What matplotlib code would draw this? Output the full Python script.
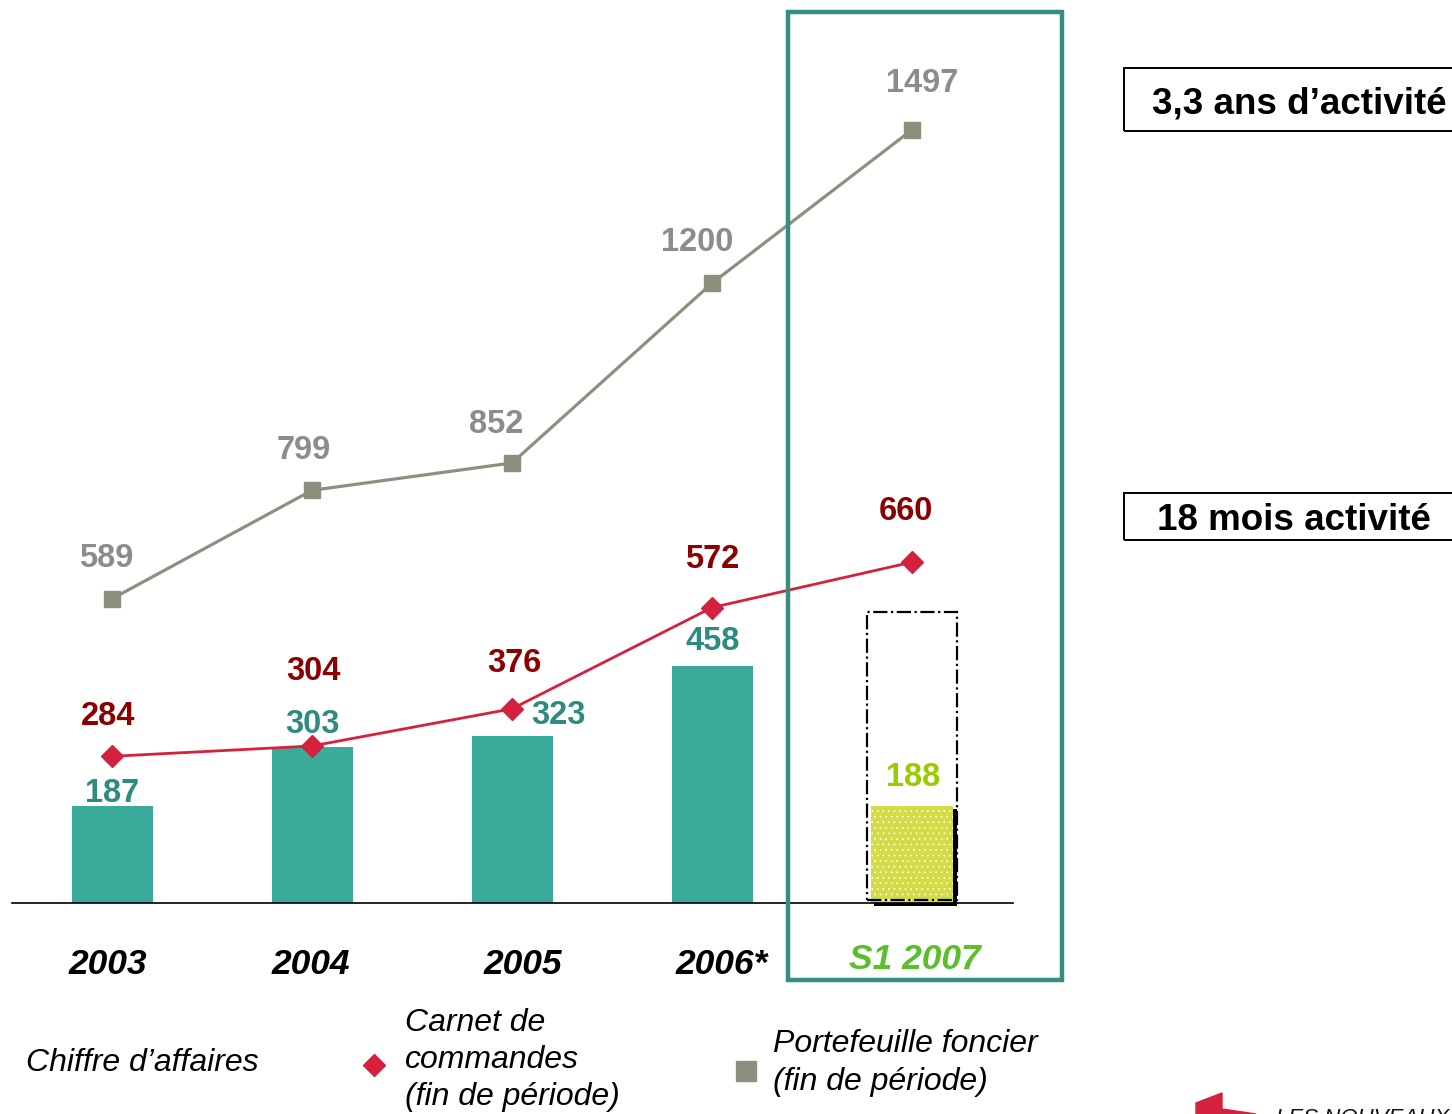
import matplotlib
matplotlib.use("Agg")
import matplotlib.pyplot as plt
from matplotlib.patches import Rectangle, Polygon

plt.rcParams['font.family'] = ['Liberation Sans', 'DejaVu Sans']
plt.rcParams['hatch.color'] = 'white'
plt.rcParams['hatch.linewidth'] = 0.5

# ---------------- data ----------------
periods = ['2003', '2004', '2005', '2006*', 'S1 2007']
chiffre_affaires = [187, 303, 323, 458, 188]
carnet_commandes = [284, 304, 376, 572, 660]
portefeuille_foncier = [589, 799, 852, 1200, 1497]
s1_2007_cadre = 563          # dashed outline above the S1 2007 bar
box_texts = ['3,3 ans d\u2019activit\u00e9', '18 mois activit\u00e9']
legend_texts = ['Chiffre d\u2019affaires',
                'Carnet de\ncommandes\n(fin de p\u00e9riode)',
                'Portefeuille foncier\n(fin de p\u00e9riode)']

# ---------------- styles ----------------
W, H = 1452, 1114
TEAL = '#3aab9a'
TEAL_TXT = '#2e8b80'
FRAME = '#358e7e'
RED = '#d4213d'
DARKRED = '#8b0000'
GREY_LINE = '#8f8f80'
GREY_TXT = '#8c8c8c'
YEL = '#d3db45'
GREEN_TXT = '#99cc00'
S1_GREEN = '#5bbf2a'

fig = plt.figure(figsize=(W / 100, H / 100), dpi=100)
ax = fig.add_axes([0, 0, 1, 1])
ax.axis('off')

# mapping: x index i -> pixel 112 + 200 i ; value v -> pixel row 903 - 0.5165 v
X0, DX = 112.0, 200.0
Y0, SY = 903.0, 0.5165
ax.set_xlim((0 - X0) / DX, (W - X0) / DX)
ax.set_ylim((Y0 - H) / SY, Y0 / SY)

def fx(px):
    return px / W

def fy(py):
    return 1 - py / H

def ptxt(xc, yc, s, size, **kw):
    """Place text centred (visually) on pixel position xc, yc (row from top)."""
    em = size * 100 / 72
    fig.text(fx(xc), fy(yc + 0.358 * em), s, fontsize=size, ha='center',
             va='baseline', **kw)

xs = list(range(len(periods)))
bar_w = 0.405

# ---------------- bars ----------------
ax.bar(xs[:4], chiffre_affaires[:4], width=bar_w, color=TEAL, zorder=2)
# S1 2007 bar with black drop shadow and dotted yellow fill
shadow_dx = 4 / DX
shadow_dy = 3 / SY
ax.bar(xs[4] + shadow_dx, chiffre_affaires[4], bottom=-shadow_dy, width=0.415,
       color='black', zorder=2)
ax.bar(xs[4], chiffre_affaires[4], width=0.415, color=YEL, edgecolor='white',
       linewidth=0, hatch='...', zorder=3)
ax.add_patch(Rectangle((xs[4] - 0.225, 6), 0.45, s1_2007_cadre - 6, fill=False,
                       edgecolor='black', linewidth=1.6, linestyle='-.', zorder=4))

# baseline
ax.plot([(12 - X0) / DX, (1013 - X0) / DX], [0, 0], color='black', lw=1.2, zorder=4)

# ---------------- lines ----------------
ax.plot(xs, portefeuille_foncier, color=GREY_LINE, lw=2.3, marker='s', ms=12,
        mfc=GREY_LINE, mec=GREY_LINE, zorder=5)
ax.plot(xs, carnet_commandes, color=RED, lw=2.0, marker='D', ms=11,
        mfc=RED, mec=RED, zorder=6)

# ---------------- value labels ----------------
def lab(i, v, dx, dy, s, color, size=23.5):
    px = X0 + DX * i + dx
    py = Y0 - SY * v + dy
    ptxt(px, py, s, size, color=color, fontweight='bold')

foncier_off = [(-6, -43), (-8, -43), (-16, -42), (-15, -44), (10, -49)]
carnet_off = [(-4, -43), (1, -78), (2, -48), (0, -51), (-6, -54)]
ca_off = [(0, -16), (0, -25), (46, -24), (1, -28), (1, -32)]
for i in xs:
    lab(i, portefeuille_foncier[i], *foncier_off[i], str(portefeuille_foncier[i]), GREY_TXT)
    lab(i, carnet_commandes[i], *carnet_off[i], str(carnet_commandes[i]), DARKRED)
    lab(i, chiffre_affaires[i], *ca_off[i], str(chiffre_affaires[i]),
        GREEN_TXT if i == 4 else TEAL_TXT)

# ---------------- category labels ----------------
cat_dx = [-4, -1, 11, 10, 3]
cat_y = [961, 961, 961, 961, 956]
for i, p in enumerate(periods):
    ptxt(X0 + DX * i + cat_dx[i], cat_y[i], p, 25.5,
         color=S1_GREEN if i == 4 else 'black', fontweight='bold', style='italic')

# ---------------- highlight frame ----------------
ax.add_patch(Rectangle((fx(788), fy(980)), fx(1062) - fx(788), fy(12) - fy(980),
                       transform=fig.transFigure, fill=False, edgecolor=FRAME,
                       linewidth=3.2, zorder=7, clip_on=False))

# ---------------- right boxes ----------------
for (y1, y2, tx, ty), s in zip([(68, 131, 1299, 100), (493, 540, 1294, 517)], box_texts):
    ax.add_patch(Rectangle((fx(1124), fy(y2)), fx(1500) - fx(1124), fy(y1) - fy(y2),
                           transform=fig.transFigure, fill=False, edgecolor='black',
                           linewidth=1.4, clip_on=False))
    ptxt(tx, ty, s, 26.5, color='black', fontweight='bold')

# ---------------- legend ----------------
fig.text(fx(26), fy(1063), legend_texts[0], fontsize=23, style='italic',
         ha='left', va='center')
ax.plot([fx(374)], [fy(1065)], transform=fig.transFigure, marker='D', ms=11,
        color=RED, linestyle='none', clip_on=False)
fig.text(fx(405), fy(1060), legend_texts[1], fontsize=23, style='italic',
         ha='left', va='center', linespacing=1.32)
ax.plot([fx(746)], [fy(1071)], transform=fig.transFigure, marker='s', ms=14,
        color=GREY_LINE, linestyle='none', clip_on=False)
fig.text(fx(773), fy(1063), legend_texts[2], fontsize=23, style='italic',
         ha='left', va='center', linespacing=1.36)

# ---------------- logo fragment (bottom right) ----------------
ax.add_patch(Polygon([(fx(1196), fy(1103)), (fx(1222), fy(1093)), (fx(1222), fy(1109)),
                      (fx(1256), fy(1114)), (fx(1196), fy(1114))], closed=True,
                     transform=fig.transFigure, color=RED, clip_on=False))
fig.text(fx(1276), fy(1124), 'LES NOUVEAUX CONSTRUCTEURS', fontsize=16,
         style='italic', ha='left', va='baseline', color='#111111')

fig.savefig('out.png', dpi=100, facecolor='white')
